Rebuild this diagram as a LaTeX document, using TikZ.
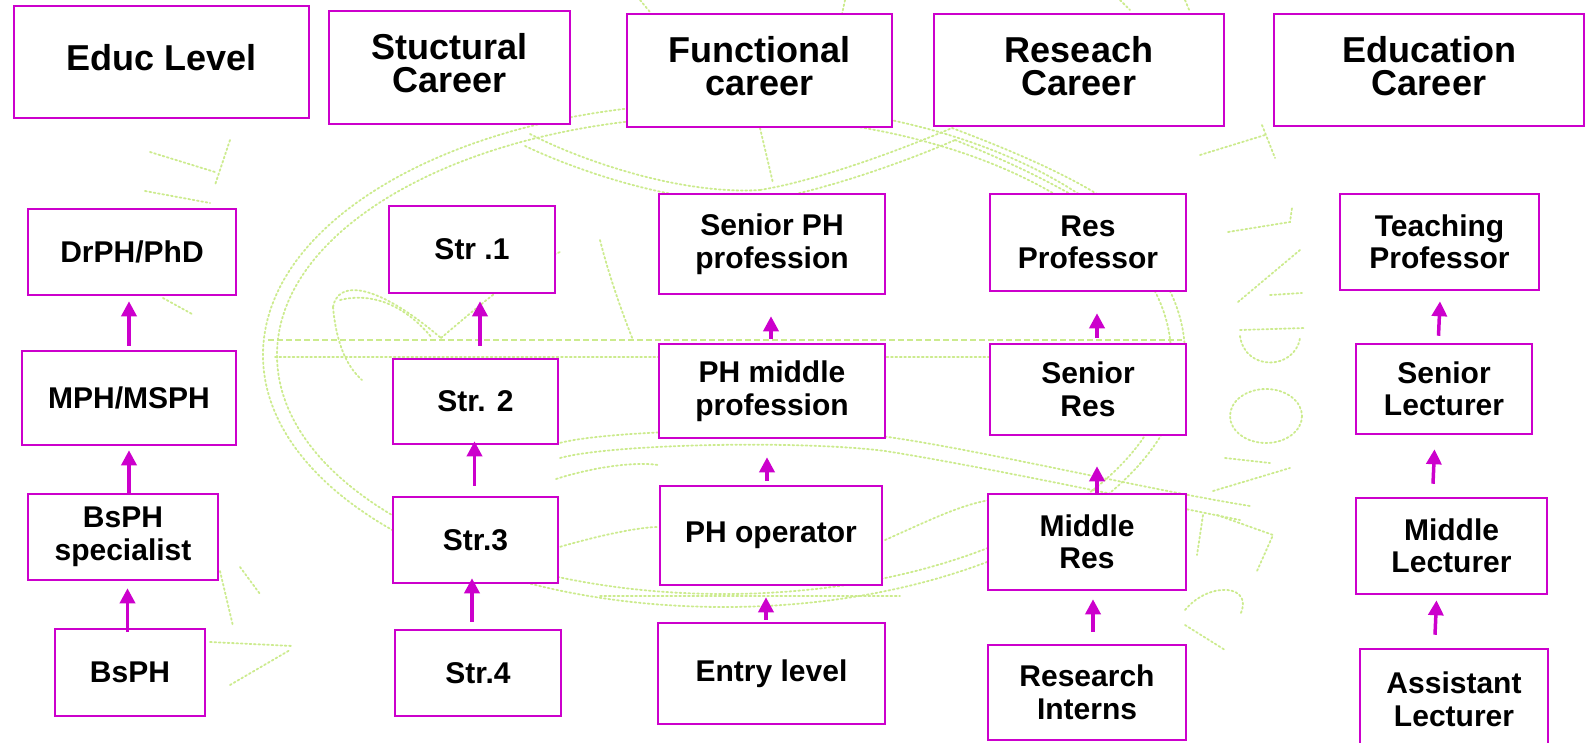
\documentclass[tikz,border=0pt]{standalone}
\usepackage{fontspec}
\setmainfont{Liberation Sans}
\usetikzlibrary{arrows.meta}
\definecolor{frame}{RGB}{204,0,204}
\definecolor{seal}{RGB}{204,235,142}
\begin{document}
\begin{tikzpicture}[x=1pt,y=-1pt,
  box/.style={draw=frame, line width=2.5pt, fill=white, inner sep=0pt,
    font=\fontsize{30}{32.5}\selectfont\bfseries, align=center},
  wh/.style 2 args={minimum width=#1pt, minimum height=#2pt},
  htxt/.style={font=\fontsize{36}{33}\selectfont\bfseries, align=center, yshift=4pt},
  up/.style={draw=frame, line width=3.5pt, -{Triangle[width=15pt,length=15pt]}},
  sealline/.style={draw=seal, line width=1.8pt, dash pattern=on 1.8pt off 2.6pt, line cap=round},
  sealdash/.style={draw=seal, line width=1.8pt, dash pattern=on 6pt off 3pt}]
\useasboundingbox (0,0) rectangle (1585,742);

% faint university seal in the background
\begin{scope}
% double inner ring and its horizontal band
\draw[sealline] (724,355) ellipse [x radius=461, y radius=252];
\draw[sealline] (724,355) ellipse [x radius=447, y radius=239];
\draw[sealdash] (268,340) -- (1182,340);
\draw[sealline] (275,357) -- (1176,357);
% creature head on the left
\draw[sealline] (333,307) .. controls (338,280) and (375,282) .. (441,338);
\draw[sealline] (340,300) .. controls (372,292) and (405,305) .. (432,338);
\draw[sealline] (333,307) .. controls (336,340) and (345,365) .. (362,380);
\draw[sealline] (441,338) .. controls (480,305) and (520,270) .. (560,252);
\draw[sealline] (600,240) .. controls (610,280) and (625,320) .. (633,340);
% upper wings
\draw[sealline] (530,134) .. controls (580,160) and (680,195) .. (760,190);
\draw[sealline] (525,146) .. controls (580,172) and (680,206) .. (760,201);
\draw[sealline] (760,190) .. controls (820,180) and (900,150) .. (952,128);
\draw[sealline] (760,201) .. controls (820,192) and (905,162) .. (955,140);
\draw[sealline] (952,128) .. controls (1010,150) and (1070,175) .. (1111,203);
\draw[sealline] (955,140) .. controls (1010,162) and (1060,186) .. (1100,212);
\draw[sealline] (760,128) -- (773,183);
% lower body and tail
\draw[sealline] (556,444) .. controls (600,430) and (800,425) .. (888,437)
  .. controls (980,450) and (1150,490) .. (1250,506);
\draw[sealline] (560,458) .. controls (610,444) and (800,440) .. (885,451)
  .. controls (975,465) and (1140,500) .. (1240,520);
\draw[sealline] (556,479) .. controls (600,465) and (640,462) .. (658,465);
\draw[sealline] (556,548) .. controls (600,535) and (640,527) .. (658,527);
\draw[sealline] (885,540) .. controls (930,520) and (960,505) .. (990,500);
\draw[sealline] (600,596) -- (900,596);
% lettering on the right
\draw[sealline] (1200,155) -- (1265,135);
\draw[sealline] (1262,125) -- (1275,158);
\draw[sealline] (1228,232) -- (1290,222) -- (1292,208);
\draw[sealline] (1238,302) -- (1300,250);
\draw[sealline] (1270,295) -- (1302,293);
\draw[sealline] (1240,330) -- (1305,328);
\draw[sealline] (1240,336) .. controls (1245,372) and (1295,370) .. (1300,338);
\draw[sealline] (1266,416) ellipse [x radius=36, y radius=27];
\draw[sealline] (1225,458) -- (1270,463);
\draw[sealline] (1213,491) -- (1290,468);
\draw[sealline] (1203,515) -- (1197,555);
\draw[sealline] (1217,515) -- (1273,535) -- (1257,571);
\draw[sealline] (1185,610) .. controls (1210,580) and (1255,585) .. (1240,615);
\draw[sealline] (1185,625) -- (1225,650);
% lettering on the left
\draw[sealline] (150,152) -- (215,172);
\draw[sealline] (230,140) -- (215,185);
\draw[sealline] (145,191) -- (210,203);
\draw[sealline] (163,298) -- (192,314);
\draw[sealline] (220,571) -- (233,626);
\draw[sealline] (240,567) -- (260,594);
\draw[sealline] (210,642) -- (293,646);
\draw[sealline] (230,685) -- (290,650);
% lettering along the top
\draw[sealline] (640,0) -- (650,12);
\draw[sealline] (845,0) -- (842,14);
\draw[sealline] (1120,0) -- (1130,10);
\draw[sealline] (1185,0) -- (1190,12);
\end{scope}

% column headings
\node[box, wh={295}{112}, label={[htxt]center:Educ Level}] (h1) at (161.5,62) {};
\node[box, wh={241}{113}, label={[htxt]center:Stuctural\\Career}] (h2) at (449.5,67.5) {};
\node[box, wh={265}{113}, label={[htxt]center:Functional\\career}] (h3) at (759.5,70.5) {};
\node[box, wh={290}{112}, label={[htxt]center:Reseach\\Career}] (h4) at (1079,70) {};
\node[box, wh={310}{112}, label={[htxt]center:Education\\Career}] (h5) at (1429,70) {};

% education levels
\node[box, wh={208}{86}] (r11) at (132,252) {DrPH/PhD};
\node[box, wh={214}{94}] (r12) at (129,398) {MPH/MSPH};
\node[box, wh={190}{86}] (r13) at (123,537) {BsPH\\specialist};
\node[box, wh={150}{87}] (r14) at (130,672.5) {BsPH};

% structural career
\node[box, wh={166}{87}] (r21) at (472,249.5) {Str .1};
\node[box, wh={165}{85}] (r22) at (475.5,401.5) {Str. 2};
\node[box, wh={165}{86}] (r23) at (475.5,540) {Str.3};
\node[box, wh={166}{86}] (r24) at (478,673) {Str.4};

% functional career
\node[box, wh={226}{100}] (r31) at (772,244) {Senior PH\\profession};
\node[box, wh={226}{94}] (r32) at (772,391) {PH middle\\profession};
\node[box, wh={222}{99}] (r33) at (771,535.5) {PH operator};
\node[box, wh={227}{101}] (r34) at (771.5,673.5) {Entry level};

% research career
\node[box, wh={196}{97}] (r41) at (1088,242.5) {Res\\Professor};
\node[box, wh={196}{91}] (r42) at (1088,389.5) {Senior\\Res};
\node[box, wh={198}{96}] (r43) at (1087,542) {Middle\\Res};
\node[box, wh={198}{95}] (r44) at (1087,692.5) {Research\\Interns};

% education career
\node[box, wh={199}{96}] (r51) at (1439.5,242) {Teaching\\Professor};
\node[box, wh={176}{90}] (r52) at (1444,389) {Senior\\Lecturer};
\node[box, wh={191}{96}] (r53) at (1451.5,546) {Middle\\Lecturer};
\node[box, wh={188}{101}] (r54) at (1454,699.5) {Assistant\\Lecturer};

% promotion arrows
\draw[up] ([shift={(0,-4)}]r12.north) -- ([shift={(-3,5)}]r11.south);
\draw[up] ([shift={(6,1)}]r13.north) -- ([shift={(0,4)}]r12.south);
\draw[up] ([shift={(-2.5,4)}]r14.north) -- ([shift={(4.5,7)}]r13.south);

\draw[up] ([shift={(4.5,-12)}]r22.north) -- ([shift={(8,7)}]r21.south);
\draw[up] ([shift={(-1,-10)}]r23.north) -- ([shift={(-1,-4)}]r22.south);
\draw[up] ([shift={(-6,-7)}]r24.north) -- ([shift={(-3.5,-6)}]r23.south);

\draw[up] ([shift={(-1,-4)}]r32.north) -- ([shift={(-1,21)}]r31.south);
\draw[up] ([shift={(-4,-4)}]r33.north) -- ([shift={(-5,18)}]r32.south);
\draw[up] ([shift={(-5.5,-2)}]r34.north) -- ([shift={(-5,11)}]r33.south);

\draw[up] ([shift={(9,-5)}]r42.north) -- ([shift={(9,21)}]r41.south);
\draw[up] ([shift={(10,0)}]r43.north) -- ([shift={(9,30)}]r42.south);
\draw[up] ([shift={(6,-12)}]r44.north) -- ([shift={(6,8)}]r43.south);

\draw[up] ([shift={(-5.5,-7)}]r52.north) -- ([shift={(0.5,10)}]r51.south);
\draw[up] ([shift={(-18.5,-13)}]r53.north) -- ([shift={(-9.5,14)}]r52.south);
\draw[up] ([shift={(-19,-13)}]r54.north) -- ([shift={(-15,5)}]r53.south);
\end{tikzpicture}
\end{document}
